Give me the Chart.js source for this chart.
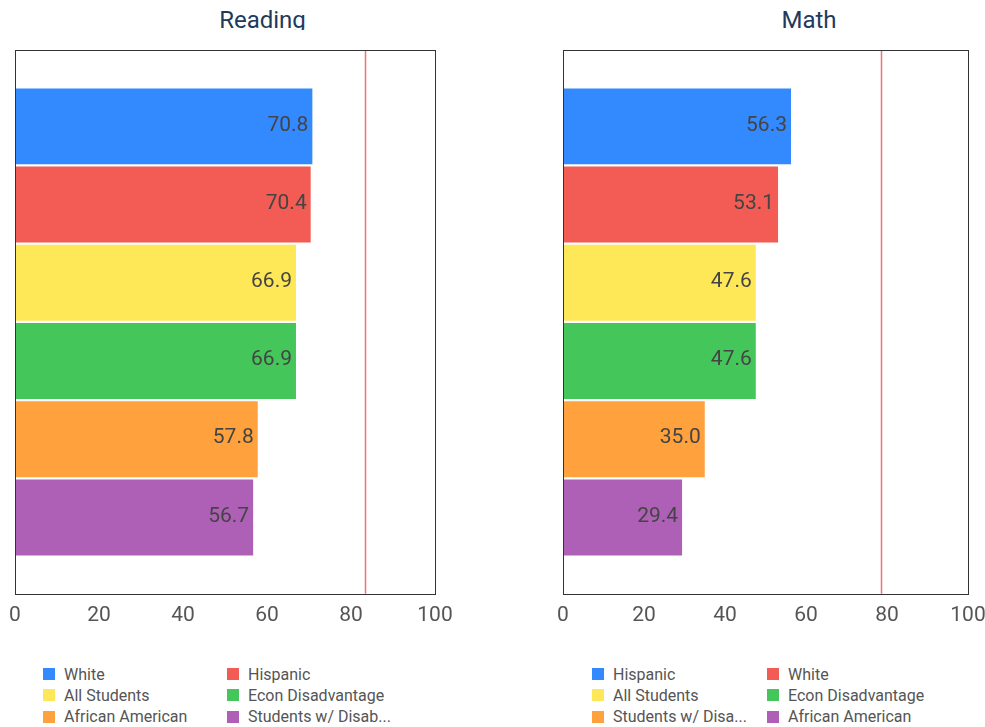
<!DOCTYPE html>
<html>
<head>
<meta charset="utf-8">
<script src="https://cdn.jsdelivr.net/npm/chart.js@4"></script>
<style>
  body { margin: 0; width: 985px; height: 727px; overflow: hidden; background: #fff; position: relative; font-family: Roboto, sans-serif; }
  .title { position: absolute; top: 0; height: 30px; overflow: hidden; text-align: center; font-size: 24px; line-height: 40px; color: #1f3a5a; }
  .box { position: absolute; }
  .legend { position: absolute; display: grid; grid-auto-rows: 21.3px; font-size: 16px; color: #555; }
  .legend div { display: flex; align-items: center; white-space: nowrap; height: 12px; }
  .legend span.sw { width: 12px; height: 12px; margin-right: 9px; flex: none; }
</style>
</head>
<body>
<div class="title" style="left:0;width:525px">Reading</div>
<div class="title" style="left:540px;width:538px">Math</div>
<div class="box" style="left:0;top:0;width:480px;height:660px"><canvas id="reading"></canvas></div>
<div class="box" style="left:540px;top:0;width:560px;height:660px"><canvas id="math"></canvas></div>
<div class="legend" id="legReading" style="left:43px;top:668px;grid-template-columns:184px 184px"></div>
<div class="legend" id="legMath" style="left:592px;top:668px;grid-template-columns:175px 175px"></div>
<script>
const colors = ["#3389fe", "#f25c54", "#ffe857", "#45c65a", "#ffa13d", "#ad60b5"];

const readingGroups = ["White", "Hispanic", "All Students", "Econ Disadvantage", "African American", "Students w/ Disab..."];
const readingValues = [70.8, 70.4, 66.9, 66.9, 57.8, 56.7];
const readingTarget = 83.4;

const mathGroups = ["Hispanic", "White", "All Students", "Econ Disadvantage", "Students w/ Disa...", "African American"];
const mathValues = [56.3, 53.1, 47.6, 47.6, 35.0, 29.4];
const mathTarget = 78.4;

const xTicks = [0, 20, 40, 60, 80, 100];

// frame + target line + value labels
const extras = {
  id: "extras",
  afterDatasetsDraw(chart, args, opts) {
    const { ctx, chartArea: a, scales } = chart;
    ctx.save();
    // value labels at bar ends
    ctx.font = "21px Roboto";
    ctx.fillStyle = "#444";
    ctx.textAlign = "right";
    ctx.textBaseline = "middle";
    chart.data.datasets.forEach((ds, i) => {
      chart.getDatasetMeta(i).data.forEach((bar, j) => {
        ctx.fillText(ds.data[j].toFixed(1), bar.x - 4, bar.y - 1);
      });
    });
    // target line
    const tx = Math.round(scales.x.getPixelForValue(opts.target)) + 0.5;
    ctx.strokeStyle = "#f07272";
    ctx.lineWidth = 1.5;
    ctx.beginPath();
    ctx.moveTo(tx, a.top);
    ctx.lineTo(tx, a.bottom);
    ctx.stroke();
    // frame
    ctx.strokeStyle = "#333";
    ctx.lineWidth = 1;
    ctx.strokeRect(Math.round(a.left) + 0.5, Math.round(a.top) + 0.5,
      Math.round(a.right - a.left), Math.round(a.bottom - a.top));
    ctx.restore();
  }
};

function makeChart(id, subject, groups, values, target, pad) {
  new Chart(document.getElementById(id), {
    type: "bar",
    data: {
      labels: [subject],
      datasets: groups.map((g, i) => ({
        label: g,
        data: [values[i]],
        backgroundColor: colors[i],
        categoryPercentage: 0.863,
        barPercentage: 0.971
      }))
    },
    options: {
      indexAxis: "y",
      responsive: true,
      maintainAspectRatio: false,
      animation: false,
      layout: { padding: pad },
      scales: {
        x: {
          min: 0,
          max: 100,
          afterBuildTicks: (s) => { s.ticks = xTicks.map(v => ({ value: v })); },
          grid: { display: false, drawTicks: false },
          border: { display: false },
          ticks: { color: "#555", padding: 9, font: { family: "Roboto", size: 21 } }
        },
        y: { display: false }
      },
      plugins: {
        legend: { display: false },
        tooltip: { enabled: false },
        extras: { target: target }
      }
    },
    plugins: [extras]
  });
}

makeChart("reading", "Reading", readingGroups, readingValues, readingTarget,
  { left: 15, top: 50, right: 45, bottom: 23 });
makeChart("math", "Math", mathGroups, mathValues, mathTarget,
  { left: 23, top: 50, right: 132, bottom: 23 });

function makeLegend(id, groups) {
  const el = document.getElementById(id);
  groups.forEach((g, i) => {
    const item = document.createElement("div");
    const sw = document.createElement("span");
    sw.className = "sw";
    sw.style.background = colors[i];
    item.appendChild(sw);
    item.appendChild(document.createTextNode(g));
    el.appendChild(item);
  });
}
makeLegend("legReading", readingGroups);
makeLegend("legMath", mathGroups);
</script>
</body>
</html>
